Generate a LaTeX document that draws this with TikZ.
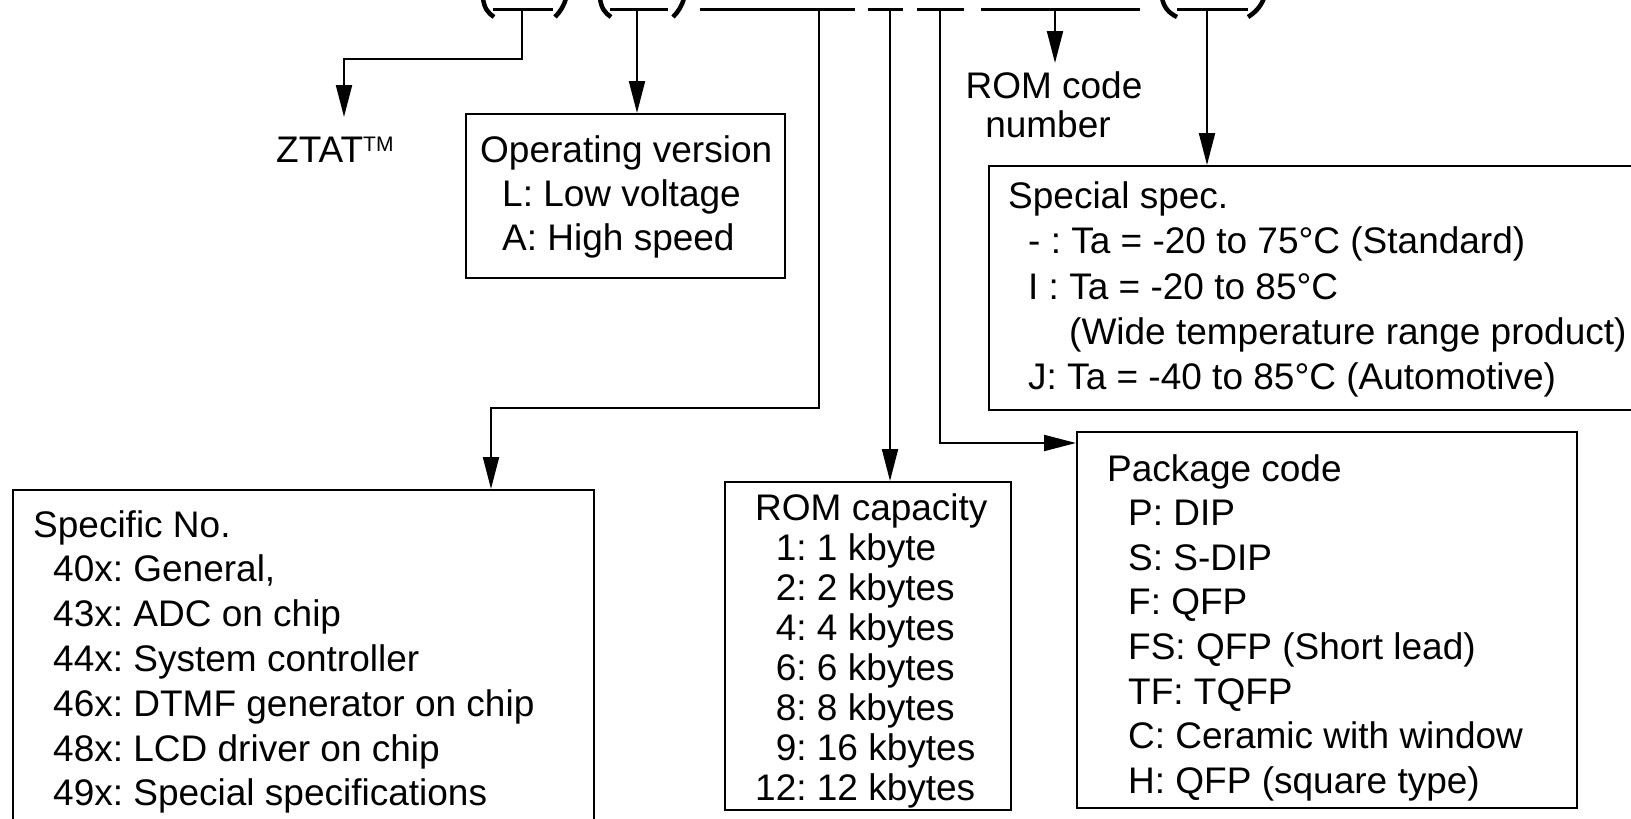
\documentclass[tikz,border=0pt]{standalone}
\usepackage{fontspec}
\setmainfont{Liberation Sans}
\usetikzlibrary{arrows.meta}
\frenchspacing
\begin{document}
\begin{tikzpicture}[x=1pt,y=-1pt,
  arr/.style={line width=2pt,-{Triangle[length=32pt,width=16pt]}},
  boxst/.style={draw,line width=2pt,inner sep=0pt,anchor=north west},
  txt/.style={anchor=base west,inner sep=0pt,font=\fontsize{37}{44}\selectfont\frenchspacing},
  ctxt/.style={anchor=base,inner sep=0pt,font=\fontsize{37}{44}\selectfont\frenchspacing},
  uline/.style={line width=2.5pt},
  paren/.style={line width=4.5pt}]
\useasboundingbox (0,0) rectangle (1631,819);
\clip (0,0) rectangle (1631,819);

% ---- top code line (cut off at the top) ----
\draw[paren] (483,-2) .. controls (484,8) and (488,13) .. (494,17);
\draw[uline] (493,9.5) -- (553,9.5);
\draw[paren] (566,-2) .. controls (564,6) and (560,12) .. (555,17);
\draw[paren] (600,-2) .. controls (601,8) and (605,13) .. (611,17);
\draw[uline] (610,9.5) -- (668,9.5);
\draw[paren] (684,-2) .. controls (682,6) and (678,12) .. (673,17);
\draw[uline] (700,9.5) -- (855,9.5);
\draw[uline] (868,9.5) -- (903,9.5);
\draw[uline] (917,9.5) -- (964,9.5);
\draw[uline] (981,9.5) -- (1140,9.5);
\draw[paren] (1162,-2) .. controls (1164,8) and (1169,13) .. (1177,17);
\draw[uline] (1177,9.5) -- (1248,9.5);
\draw[paren] (1264,-2) .. controls (1261,6) and (1256,12) .. (1248,17);

\coordinate (tA) at (522,9.5);
\coordinate (tB) at (637,9.5);
\coordinate (tC) at (819,9.5);
\coordinate (tD) at (890,9.5);
\coordinate (tE) at (940,9.5);
\coordinate (tF) at (1055,9.5);
\coordinate (tG) at (1207,9.5);

% ---- boxes ----
\node[boxst,minimum width=319pt,minimum height=164pt] (opbox) at (465,113) {};
\node[boxst,minimum width=700pt,minimum height=244pt] (spbox) at (988,165) {};
\node[boxst,minimum width=581pt,minimum height=360pt] (specbox) at (12,489) {};
\node[boxst,minimum width=286pt,minimum height=328pt] (romcap) at (724,481) {};
\node[boxst,minimum width=500pt,minimum height=376pt] (pkgbox) at (1076,431) {};

% ---- ZTAT ----
\node[txt] (ztat) at (276,162) {ZTAT{\fontsize{21}{21}\selectfont\raisebox{11pt}{TM}}};

% ---- ROM code number ----
\node[ctxt] (rc1) at (1054,98) {ROM code};
\node[ctxt] (rc2) at (1048,137) {number};

% ---- Operating version ----
\node[txt] (op0) at (480,162) {Operating version};
\foreach \t [count=\i] in {{L: Low voltage},{A: High speed}}
  \node[txt] (op\i) at (502,{162+44*\i}) {\t};

% ---- Special spec ----
\node[txt] (sp0) at (1008,208) {Special spec.};
\node[txt] (sp1) at (1028,253) {- : Ta = -20 to 75°C (Standard)};
\node[txt] (sp2) at (1028,299) {I : Ta = -20 to 85°C};
\node[txt] (sp3) at (1069,344) {(Wide temperature range product)};
\node[txt] (sp4) at (1028,389) {J: Ta = -40 to 85°C (Automotive)};

% ---- Specific No. ----
\node[txt] (sn0) at (33,537) {Specific No.};
\foreach \t [count=\i] in {{40x: General,},{43x: ADC on chip},{44x: System controller},{46x: DTMF generator on chip},{48x: LCD driver on chip},{49x: Special specifications}}
  \node[txt] (sn\i) at (53,{537+44.8*\i}) {\t};

% ---- ROM capacity ----
\node[txt] (cap0) at (755,520) {ROM capacity};
\foreach \t [count=\i] in {{\phantom{1}1: 1 kbyte},{\phantom{1}2: 2 kbytes},{\phantom{1}4: 4 kbytes},{\phantom{1}6: 6 kbytes},{\phantom{1}8: 8 kbytes},{\phantom{1}9: 16 kbytes},{12: 12 kbytes}}
  \node[txt] (cap\i) at (755,{520+40*\i}) {\t};

% ---- Package code ----
\node[txt] (pk0) at (1107,481) {Package code};
\foreach \t [count=\i] in {{P: DIP},{S: S-DIP},{F: QFP},{FS: QFP (Short lead)},{TF: TQFP},{C: Ceramic with window},{H: QFP (square type)}}
  \node[txt] (pk\i) at (1128,{481+44.6*\i}) {\t};

% ---- connectors ----
\coordinate (bendA) at (344,59);
\coordinate (ztatTip) at (344,117);
\draw[arr] (tA) |- (bendA) -- (ztatTip);
\draw[arr] (tB) -- (tB |- opbox.north);
\coordinate (bendC) at (491,408);
\draw[arr] (tC) |- (bendC) -- (bendC |- specbox.north);
\draw[arr] (tD) -- (tD |- romcap.north);
\coordinate (bendE) at (940,443);
\draw[arr] (tE) -- (bendE) -- (bendE -| pkgbox.west);
\coordinate (romTip) at (1055,63);
\draw[arr] (tF) -- (romTip);
\draw[arr] (tG) -- (tG |- spbox.north);
\end{tikzpicture}
\end{document}
